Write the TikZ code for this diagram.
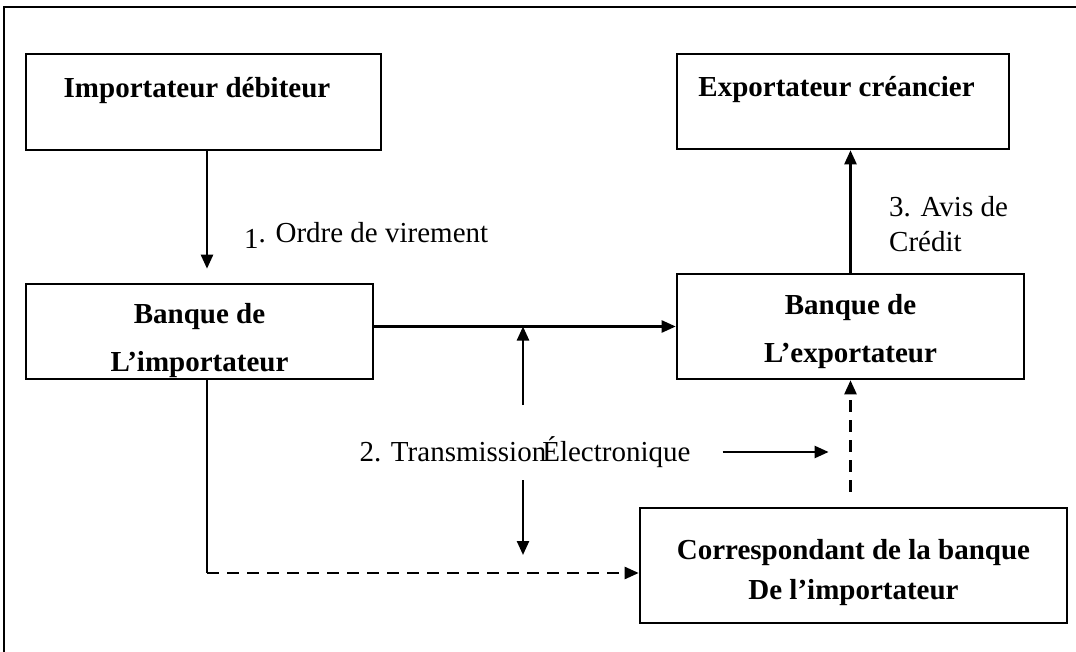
\documentclass[tikz,border=0pt]{standalone}
\usepackage{fontspec}
\setmainfont{Liberation Serif}
\usetikzlibrary{arrows.meta}
\tikzset{
  boite/.style={draw,line width=1.3pt,inner sep=0pt,font=\fontsize{14.5pt}{24pt}\selectfont\bfseries},
  texte/.style={inner sep=0pt,font=\fontsize{14.5pt}{17.5pt}\selectfont},
  tirets/.style={dash pattern=on 6pt off 4pt}
}
\begin{document}
\begin{tikzpicture}[>={Triangle[length=7pt,width=6pt]},x=0.5pt,y=-0.5pt,line width=1.2pt]
\useasboundingbox (0,0) rectangle (1076,652);
% cadre de la page
\draw[line width=1pt] (4,652)--(4,7)--(1076,7);
% les boites
\node[boite,minimum width=177.5pt,minimum height=48pt,text height=10pt,text depth=14.5pt] (imp) at (203.5,102) {Importateur débiteur\hspace*{6.5pt}};
\node[boite,minimum width=166pt,minimum height=47.5pt,text height=10pt,text depth=14.5pt] (exp) at (843,101.5) {Exportateur créancier\hspace*{6.5pt}};
\node[boite,align=center,minimum width=173.5pt,minimum height=47.5pt] (bimp) at (199.5,331.5) {\rule{0pt}{19pt}Banque de\\L’importateur};
\node[boite,align=center,minimum width=173.5pt,minimum height=52.5pt] (bexp) at (850.5,326.5) {\rule{0pt}{15pt}Banque de\\L’exportateur};
\node[boite,align=center,minimum width=213.5pt,minimum height=57.5pt,font=\fontsize{14.5pt}{20pt}\selectfont\bfseries] (corr) at (853.5,565.5) {\rule{0pt}{17pt}Correspondant de la banque\\De l’importateur};
% 1. ordre de virement
\coordinate (coin) at (207,573);
\draw[->,shorten >=7pt] (imp.south -| coin) -- (bimp.north -| coin);
\node[texte,anchor=west] (ordre) at (243,235) {\raisebox{-3pt}{1}. Ordre de virement};
% 2. transmission
\draw[->] (bimp.east |- bexp.west) -- (bexp.west);
\node[texte] (trans) at (525,452) {2. Transmission\kern-2pt Électronique};
\coordinate (haut) at (523,405); \coordinate (bas) at (523,480);
\draw[->] (haut) -- (haut |- bexp.west);
\draw[->] (bas) -- ++(0,75);
\draw[->] ([xshift=15.5pt]trans.east) -- ++(106,0);
\draw (bimp.south -| coin) -- (coin);
\draw[->,tirets] (coin) -- (coin -| corr.west);
\draw[->,tirets] ([yshift=7.5pt]corr.north -| bexp.south) -- (bexp.south);
% 3. avis de credit
\draw[->] (bexp.north) -- (bexp.north |- exp.south);
\node[texte,anchor=west,align=left] (avis) at (888,224) {3. Avis de\\Crédit};
\end{tikzpicture}
\end{document}
